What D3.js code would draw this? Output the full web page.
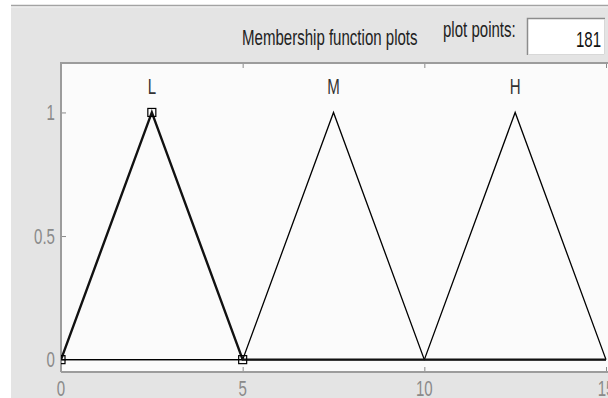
<!DOCTYPE html>
<html>
<head>
<meta charset="utf-8">
<script src="https://cdn.jsdelivr.net/npm/d3@7"></script>
<style>
  html, body { margin: 0; padding: 0; background: #ffffff; }
  svg { display: block; }
  text { font-family: "Liberation Sans", Arial, sans-serif; }
</style>
</head>
<body>
<svg id="chart" width="608" height="398"></svg>
<script>
// Membership functions of the input variable (triangular, params [a, b, c])
const mfNames  = ["L", "M", "H"];
const mfParams = [[0, 2.5, 5], [5, 7.5, 10], [10, 12.5, 15]];
const selectedIndex = 0;           // "L" is the selected function
const xRange   = [0, 15];
const yRange   = [-0.05, 1.2];
const xTicks   = [0, 5, 10, 15];
const yTicks   = [0, 0.5, 1];
const yTickLabels = ["0", "0.5", "1"];
const plotPoints = "181";

const svg = d3.select("#chart");
const W = 608, H = 398;
const plot = { left: 61, right: 606, top: 63, bottom: 372 };
const FS = 21.5, SX = 0.7;         // narrow GUI font look

const x = d3.scaleLinear().domain(xRange).range([plot.left, plot.right]);
const y = d3.scaleLinear().domain(yRange).range([plot.bottom, plot.top]);

// condensed text helper
function label(g, str, px, py, anchor, color, size) {
  return g.append("text")
    .attr("transform", `translate(${px},${py}) scale(${SX},1)`)
    .attr("text-anchor", anchor)
    .attr("font-size", size || FS)
    .attr("fill", color)
    .text(str);
}

// window panel background
svg.append("rect").attr("x", 0).attr("y", 0).attr("width", W).attr("height", H).attr("fill", "#ffffff");
svg.append("rect").attr("x", 11).attr("y", 5).attr("width", W - 11).attr("height", H - 5).attr("fill", "#e4e4e4");
svg.append("line").attr("x1", 11).attr("x2", W).attr("y1", 5.5).attr("y2", 5.5)
  .attr("stroke", "#a3a3a3").attr("stroke-width", 1.5);
svg.append("line").attr("x1", 11).attr("x2", W).attr("y1", 7).attr("y2", 7)
  .attr("stroke", "#f2f2f2").attr("stroke-width", 1);

// header
label(svg, "Membership function plots", 242, 45, "start", "#222222");
label(svg, "plot points:", 443, 37, "start", "#222222");

// plot-points edit box
const bx = 527, by = 18, bw = 78, bh = 37;
svg.append("rect").attr("x", bx).attr("y", by).attr("width", bw).attr("height", bh).attr("fill", "#ffffff");
svg.append("path").attr("d", `M${bx + 0.5},${by + bh} V${by + 0.5} H${bx + bw}`)
  .attr("fill", "none").attr("stroke", "#8c8c8c").attr("stroke-width", 1.5);
svg.append("path").attr("d", `M${bx + 1},${by + bh - 0.5} H${bx + bw - 0.5} V${by + 1}`)
  .attr("fill", "none").attr("stroke", "#d8d8d8").attr("stroke-width", 1);
label(svg, plotPoints, 601, 47, "end", "#111111");

// axes area
svg.append("rect")
  .attr("x", plot.left).attr("y", plot.top)
  .attr("width", plot.right - plot.left + 4).attr("height", plot.bottom - plot.top)
  .attr("fill", "#fbfbfb");

svg.append("defs").append("clipPath").attr("id", "clip")
  .append("rect")
  .attr("x", plot.left).attr("y", plot.top)
  .attr("width", plot.right - plot.left + 4).attr("height", plot.bottom - plot.top);

// ticks drawn with d3 axes (labels added separately in the condensed font)
const tickCol = "#8a8a8a";
const axB = svg.append("g").attr("transform", `translate(0,${plot.bottom})`)
  .call(d3.axisBottom(x).tickValues(xTicks).tickSizeInner(-5).tickSizeOuter(0).tickFormat(""));
const axT = svg.append("g").attr("transform", `translate(0,${plot.top})`)
  .call(d3.axisTop(x).tickValues(xTicks).tickSizeInner(-5).tickSizeOuter(0).tickFormat(""));
const axL = svg.append("g").attr("transform", `translate(${plot.left},0)`)
  .call(d3.axisLeft(y).tickValues(yTicks).tickSizeInner(-5).tickSizeOuter(0).tickFormat(""));
[axB, axT, axL].forEach(g => {
  g.select(".domain").remove();
  g.selectAll(".tick line").attr("stroke", tickCol).attr("stroke-width", 1);
});

// tick labels
xTicks.forEach(v => label(svg, String(v), x(v), 396, "middle", tickCol));
yTicks.forEach((v, i) => label(svg, yTickLabels[i], 55, y(v) + 7.5, "end", tickCol));

// plot frame
svg.append("path")
  .attr("d", `M${plot.left},${plot.bottom} V${plot.top} H${W + 2}`)
  .attr("fill", "none").attr("stroke", "#9c9c9c").attr("stroke-width", 2);
svg.append("line")
  .attr("x1", plot.left).attr("x2", W + 2).attr("y1", plot.bottom).attr("y2", plot.bottom)
  .attr("stroke", "#9c9c9c").attr("stroke-width", 2);

// membership function curves
const curves = svg.append("g").attr("clip-path", "url(#clip)");
const line = d3.line().x(d => x(d[0])).y(d => y(d[1]));
const mfPoints = p => [[xRange[0], 0], [p[0], 0], [p[1], 1], [p[2], 0], [xRange[1], 0]];

mfParams.forEach((p, i) => {
  if (i === selectedIndex) return;
  curves.append("path").attr("d", line(mfPoints(p)))
    .attr("fill", "none").attr("stroke", "#000000").attr("stroke-width", 1.3);
});
curves.append("path").attr("d", line(mfPoints(mfParams[selectedIndex])))
  .attr("fill", "none").attr("stroke", "#111111").attr("stroke-width", 2.4)
  .attr("stroke-linejoin", "miter");

// vertex markers of the selected function
const sel = mfParams[selectedIndex];
curves.selectAll("rect.vertex")
  .data([[sel[0], 0], [sel[1], 1], [sel[2], 0]])
  .join("rect").attr("class", "vertex")
  .attr("x", d => x(d[0]) - 4).attr("y", d => y(d[1]) - 4)
  .attr("width", 8).attr("height", 8)
  .attr("fill", "none").attr("stroke", "#000000").attr("stroke-width", 1.2);

// function names above the peaks
mfParams.forEach((p, i) => label(svg, mfNames[i], x(p[1]), 94, "middle", "#333333"));
</script>
</body>
</html>
